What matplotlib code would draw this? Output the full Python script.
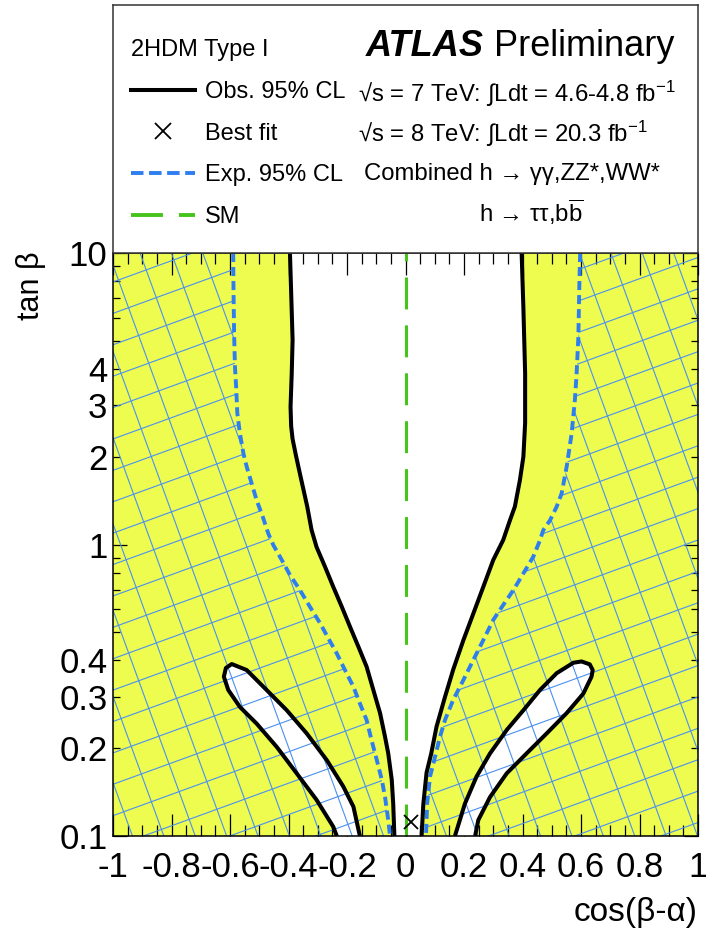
"""
ATLAS 2HDM Type I: allowed region in the (cos(beta-alpha), tan beta) plane.
"""

import numpy as np
import matplotlib

matplotlib.use("Agg")
import matplotlib.pyplot as plt
from matplotlib.collections import LineCollection
from matplotlib.lines import Line2D
from matplotlib.patches import PathPatch
from matplotlib.path import Path
from matplotlib.ticker import MultipleLocator

plt.rcParams["font.family"] = ["Liberation Sans", "DejaVu Sans"]
plt.rcParams["mathtext.fontset"] = "custom"
plt.rcParams["mathtext.rm"] = "Liberation Sans"
plt.rcParams["mathtext.it"] = "Liberation Sans:italic"
plt.rcParams["mathtext.bf"] = "Liberation Sans:bold"
plt.rcParams["lines.scale_dashes"] = False

# observed 95% CL contour, outer branches (top -> bottom)
obs_left_x = [-0.395, -0.386, -0.389, -0.393, -0.391, -0.386, -0.375, -0.361, -0.336, -0.321,
              -0.304, -0.275, -0.247, -0.218, -0.190, -0.161, -0.133, -0.110, -0.087,
              -0.070, -0.059, -0.047, -0.042, -0.038]
obs_left_y = [10, 5.03, 3.86, 2.97, 2.55, 2.3, 2.03, 1.75, 1.35, 1.12,
              0.98, 0.838, 0.716, 0.612, 0.523, 0.446, 0.381, 0.317, 0.264,
              0.219, 0.192, 0.156, 0.129, 0.10]
obs_right_x = [0.397, 0.403, 0.409, 0.409, 0.403, 0.391, 0.374, 0.357, 0.334,
               0.300, 0.266, 0.232, 0.198, 0.163, 0.135, 0.106, 0.088, 0.072,
               0.061, 0.055]
obs_right_y = [10, 6.5, 3.87, 2.61, 2.0, 1.66, 1.35, 1.21, 1.036,
               0.885, 0.716, 0.58, 0.47, 0.372, 0.30, 0.237, 0.192, 0.165,
               0.129, 0.10]

# observed 95% CL islands (allowed, lower corners)
isl_left_x = [-0.235, -0.247, -0.304, -0.372, -0.440, -0.509, -0.566, -0.606, -0.621,
              -0.614, -0.594, -0.543, -0.475, -0.406, -0.338, -0.269, -0.213, -0.178,
              -0.156]
isl_left_y = [0.10, 0.1076, 0.133, 0.164, 0.202, 0.243, 0.277, 0.317, 0.352,
              0.377, 0.389, 0.371, 0.317, 0.270, 0.225, 0.182, 0.148, 0.126,
              0.10]
isl_right_x = [0.169, 0.203, 0.243, 0.289, 0.346, 0.403, 0.460, 0.517, 0.574,
               0.602, 0.630, 0.640, 0.636, 0.608, 0.551, 0.483, 0.414, 0.346,
               0.289, 0.249, 0.238]
isl_right_y = [0.10, 0.129, 0.16, 0.192, 0.231, 0.27, 0.317, 0.362, 0.393,
               0.397, 0.388, 0.371, 0.352, 0.308, 0.264, 0.225, 0.192, 0.164,
               0.136, 0.1135, 0.10]

# expected 95% CL contour (top -> bottom)
exp_left_x = [-0.589, -0.588, -0.586, -0.583, -0.579, -0.575, -0.566, -0.554, -0.543,
              -0.526, -0.509, -0.488, -0.469, -0.452, -0.423, -0.395, -0.361, -0.327,
              -0.292, -0.264, -0.235, -0.207, -0.178, -0.156, -0.133, -0.116, -0.098,
              -0.081, -0.070, -0.059, -0.053]
exp_left_y = [10, 7.46, 5.3, 4.07, 3.47, 2.82, 2.40, 2.05, 1.85,
              1.62, 1.42, 1.245, 1.09, 0.996, 0.885, 0.786, 0.698, 0.612,
              0.537, 0.477, 0.423, 0.371, 0.325, 0.285, 0.25, 0.213, 0.182,
              0.156, 0.136, 0.1135, 0.10]
exp_right_x = [0.597, 0.594, 0.591, 0.585, 0.579, 0.568, 0.551, 0.534, 0.517,
               0.494, 0.471, 0.460, 0.437, 0.403, 0.369, 0.334, 0.300, 0.266,
               0.232, 0.198, 0.163, 0.135, 0.118, 0.101, 0.084, 0.074, 0.070]
exp_right_y = [10, 7.46, 5.16, 3.86, 3.13, 2.40, 1.85, 1.50, 1.35,
               1.21, 1.12, 1.036, 0.908, 0.796, 0.698, 0.62, 0.551, 0.47,
               0.402, 0.343, 0.293, 0.25, 0.219, 0.187, 0.16, 0.129, 0.10]

best_fit_x = 0.02
best_fit_y = 0.112
sm_cos = 0.0

x_ticks = [-1, -0.8, -0.6, -0.4, -0.2, 0, 0.2, 0.4, 0.6, 0.8, 1]
x_tick_labels = ["-1", "-0.8", "-0.6", "-0.4", "-0.2", "0", "0.2", "0.4", "0.6", "0.8", "1"]
y_major = [0.1, 1, 10]
y_major_labels = ["0.1", "1", "10"]
y_minor = [0.2, 0.3, 0.4, 0.5, 0.6, 0.7, 0.8, 0.9, 2, 3, 4, 5, 6, 7, 8, 9]
y_minor_labels = ["0.2", "0.3", "0.4", "", "", "", "", "", "2", "3", "4", "", "", "", "", ""]

YELLOW = "#eefc50"
BLUE = "#2f7ef0"
HATCH = "#4a90f0"
GREEN = "#46c41b"

W_PX, H_PX = 706, 932
AX_L, AX_R, AX_T, AX_B = 113, 698, 253, 836


def fx(px):
    return px / W_PX


def fy(py):
    return 1 - py / H_PX


def closed_path(x, y):
    verts = np.column_stack([x, y])
    verts = np.vstack([verts, verts[:1]])
    codes = [Path.MOVETO] + [Path.LINETO] * (len(x) - 1) + [Path.CLOSEPOLY]
    return Path(verts, codes)


fig = plt.figure(figsize=(W_PX / 100, H_PX / 100), dpi=100)
ax = fig.add_axes([fx(AX_L), fy(AX_B), (AX_R - AX_L) / W_PX, (AX_B - AX_T) / H_PX])
ax.set_yscale("log")

# observed exclusion (yellow)
ax.fill(np.r_[-1, -1, obs_left_x], np.r_[0.1, 10, obs_left_y], color=YELLOW, lw=0, zorder=1)
ax.fill(np.r_[1, 1, obs_right_x], np.r_[0.1, 10, obs_right_y], color=YELLOW, lw=0, zorder=1)
ax.fill(isl_left_x, isl_left_y, color="white", lw=0, zorder=2)
ax.fill(isl_right_x, isl_right_y, color="white", lw=0, zorder=2)

# expected exclusion (blue cross hatch, ROOT style tilted grid)
exp_path = Path.make_compound_path(
    closed_path(np.r_[-1, -1, exp_left_x], np.r_[0.1, 10, exp_left_y]),
    closed_path(np.r_[1, 1, exp_right_x], np.r_[0.1, 10, exp_right_y]),
)
exp_patch = PathPatch(exp_path, facecolor="none", edgecolor="none")
ax.add_patch(exp_patch)

w_ax, h_ax = AX_R - AX_L, AX_B - AX_T
spacing = 29.5
diag = np.hypot(w_ax, h_ax)
corners = np.array([[0, 0], [w_ax, 0], [0, h_ax], [w_ax, h_ax]], dtype=float)
segs = []
for ang, origin in ((20, (0.0, 554.0)), (-70, (27.0, 583.0))):
    d = np.array([np.cos(np.radians(ang)), np.sin(np.radians(ang))])
    n = np.array([-d[1], d[0]])
    proj = (corners - origin) @ n
    for k in np.arange(np.floor(proj.min() / spacing), np.ceil(proj.max() / spacing) + 1):
        c = np.array(origin) + k * spacing * n
        segs.append([(c - diag * d) / [w_ax, h_ax], (c + diag * d) / [w_ax, h_ax]])
hatch = LineCollection(segs, colors=HATCH, linewidths=0.8, transform=ax.transAxes, zorder=3)
ax.add_collection(hatch, autolim=False)
hatch.set_clip_path(exp_patch)

# contours
obs_style = dict(color="black", lw=2.9, solid_joinstyle="round", solid_capstyle="butt", zorder=5)
ax.plot(obs_left_x, obs_left_y, **obs_style)
ax.plot(obs_right_x, obs_right_y, **obs_style)
ax.plot(isl_left_x, isl_left_y, **obs_style)
ax.plot(isl_right_x, isl_right_y, **obs_style)

exp_style = dict(color=BLUE, lw=2.8, dashes=(6.5, 3.6), zorder=4)
ax.plot(exp_left_x, exp_left_y, **exp_style)
ax.plot(exp_right_x, exp_right_y, **exp_style)

ax.axvline(sm_cos, color=GREEN, lw=2.2, dashes=(23, 11.5), zorder=4)
ax.plot(best_fit_x, best_fit_y, marker="x", ms=9.5, mew=1.3, color="black", ls="none", zorder=6)

ax.set_xlim(-1, 1)
ax.set_ylim(0.1, 10)

# axes, ticks
ax.set_xticks(x_ticks, labels=x_tick_labels)
ax.xaxis.set_minor_locator(MultipleLocator(0.05))
ax.set_yticks(y_major, labels=y_major_labels)
ax.set_yticks(y_minor, labels=y_minor_labels, minor=True)
ax.tick_params(which="both", direction="in", top=True, right=True, color="black", width=0.9)
ax.tick_params(axis="x", which="major", length=16, pad=11, labelsize=25)
ax.tick_params(axis="x", which="minor", length=8)
ax.tick_params(axis="y", which="major", length=10, pad=4, labelsize=25)
ax.tick_params(axis="y", which="minor", length=5, pad=4, labelsize=25)
for sp in ax.spines.values():
    sp.set_linewidth(1.1)
    sp.set_zorder(7)

fig.text(fx(31), fy(AX_T - 2), "tan β", rotation=90, ha="center", va="top", fontsize=22)
fig.text(fx(698), fy(912), "cos(β-α)", ha="right", va="center", fontsize=24)

# legend / info box
box = fig.add_axes([fx(AX_L), fy(AX_T), (AX_R - AX_L) / W_PX, (AX_T - 5) / H_PX])
box.set_xticks([])
box.set_yticks([])
for sp in box.spines.values():
    sp.set_linewidth(1.1)
    sp.set_color("#333333")

handles = [
    Line2D([], [], color="black", lw=2.9),
    Line2D([], [], color="black", marker="x", ms=12, mew=1.3, ls="none"),
    Line2D([], [], color=BLUE, lw=2.8, dashes=(9, 4)),
    Line2D([], [], color=GREEN, lw=2.8, dashes=(23, 11.5)),
]
labels = ["Obs. 95% CL", "Best fit", "Exp. 95% CL", "SM"]
fig.legend(handles, labels, loc="upper left", bbox_to_anchor=(fx(131), fy(39)),
           frameon=False, fontsize=17, title="2HDM Type I", title_fontsize=17,
           alignment="left", handlelength=2.7, handletextpad=0.42,
           labelspacing=0.84, borderpad=0, borderaxespad=0)

fig.text(fx(366), fy(47), "ATLAS", fontsize=26, fontweight="bold", fontstyle="italic", va="center")
fig.text(fx(494), fy(47), "Preliminary", fontsize=26, va="center")
fig.text(fx(358), fy(94), "√s = 7 TeV: ∫Ldt = 4.6-4.8 fb$^{-1}$", fontsize=17.2, va="center")
fig.text(fx(358), fy(134), "√s = 8 TeV: ∫Ldt = 20.3 fb$^{-1}$", fontsize=17.2, va="center")
fig.text(fx(364), fy(174), "Combined h → γγ,ZZ*,WW*", fontsize=17.2, va="center")
fig.text(fx(479), fy(212), r"h → ττ,b$\overline{\mathrm{b}}$", fontsize=17.2, va="center")

fig.savefig("out.png", dpi=100)
